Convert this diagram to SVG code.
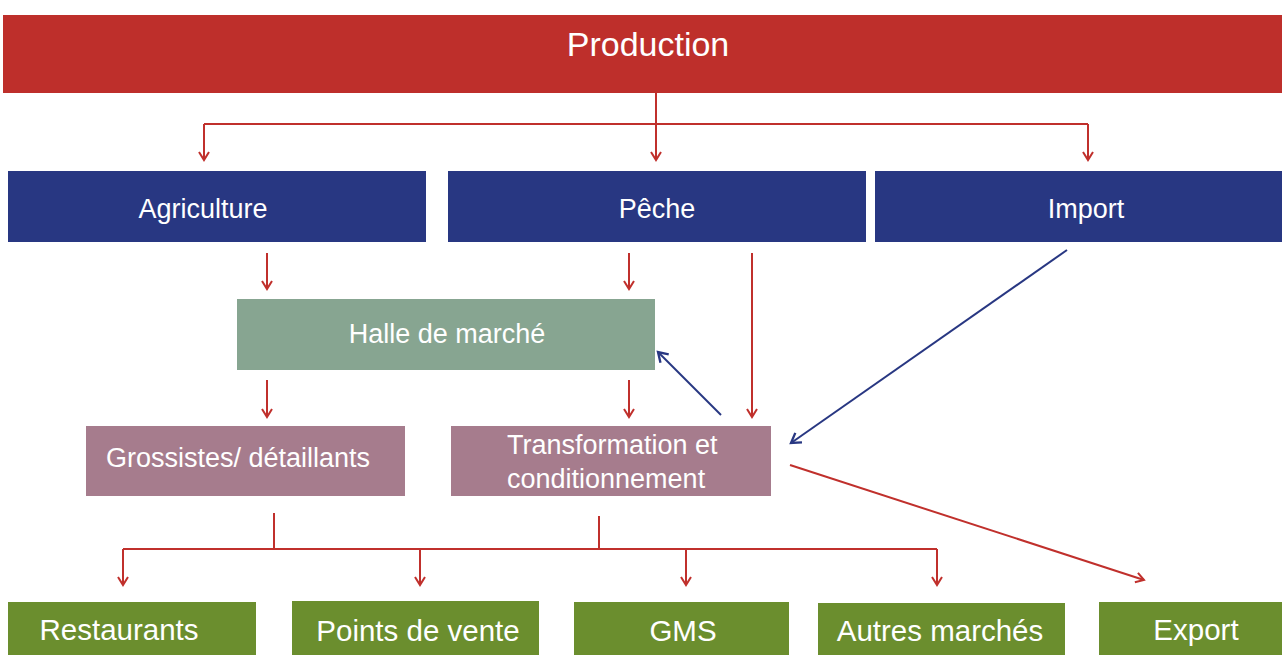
<svg xmlns="http://www.w3.org/2000/svg" width="1282" height="655" viewBox="0 0 1282 655">
<defs>
<style>
.t{font-family:"Liberation Sans",Arial,sans-serif;font-size:27px;fill:#fff}
.g{font-size:29.5px}
.r{stroke:#C0302C;stroke-width:2;fill:none}
.b{stroke:#283782;stroke-width:2;fill:none}
</style>
<marker id="ar" viewBox="0 0 12 12" refX="10" refY="6" markerWidth="12" markerHeight="12" markerUnits="userSpaceOnUse" orient="auto"><polyline points="2,1 10,6 2,11" fill="none" stroke="#C0302C" stroke-width="2"/></marker>
<marker id="ab" viewBox="0 0 12 12" refX="10" refY="6" markerWidth="14" markerHeight="14" markerUnits="userSpaceOnUse" orient="auto"><polyline points="2,1 10,6 2,11" fill="none" stroke="#283782" stroke-width="2"/></marker>
</defs>
<rect width="1282" height="655" fill="#fff"/>
<g id="connectors">
<path class="r" d="M656,93 V124 M204,124 H1088"/>
<path class="r" d="M204,124 V160" marker-end="url(#ar)"/>
<path class="r" d="M656,124 V160" marker-end="url(#ar)"/>
<path class="r" d="M1088,124 V160" marker-end="url(#ar)"/>
<path class="r" d="M267,253 V289" marker-end="url(#ar)"/>
<path class="r" d="M629,253 V289" marker-end="url(#ar)"/>
<path class="r" d="M752,253 V417" marker-end="url(#ar)"/>
<path class="r" d="M267,380 V417" marker-end="url(#ar)"/>
<path class="r" d="M629,380 V417" marker-end="url(#ar)"/>
<path class="b" d="M721,415 L658,352" marker-end="url(#ab)"/>
<path class="b" d="M1067,250 L791,443" marker-end="url(#ab)"/>
<path class="r" d="M790,465 L1144,580" marker-end="url(#ar)"/>
<path class="r" d="M274,513 V549 M599,516 V549 M123,549 H937"/>
<path class="r" d="M123,549 V585" marker-end="url(#ar)"/>
<path class="r" d="M420,549 V585" marker-end="url(#ar)"/>
<path class="r" d="M686,549 V585" marker-end="url(#ar)"/>
<path class="r" d="M937,549 V585" marker-end="url(#ar)"/>
</g>
<g id="production"><rect x="3" y="15" width="1279" height="78" fill="#BE2F2B"/><text class="t" x="648" y="56" text-anchor="middle" style="font-size:34px">Production</text></g>
<g id="agriculture"><rect x="8" y="171" width="418" height="71" fill="#283782"/><text class="t" x="203" y="218" text-anchor="middle">Agriculture</text></g>
<g id="peche"><rect x="448" y="171" width="418" height="71" fill="#283782"/><text class="t" x="657" y="218" text-anchor="middle">Pêche</text></g>
<g id="import"><rect x="875" y="171" width="407" height="71" fill="#283782"/><text class="t" x="1086" y="218" text-anchor="middle">Import</text></g>
<g id="halle"><rect x="237" y="299" width="418" height="71" fill="#87A591"/><text class="t" x="447" y="343" text-anchor="middle">Halle de marché</text></g>
<g id="grossistes"><rect x="86" y="426" width="319" height="70" fill="#A67C8D"/><text class="t" x="238" y="467" text-anchor="middle">Grossistes/ détaillants</text></g>
<g id="transformation"><rect x="451" y="426" width="320" height="70" fill="#A67C8D"/><text class="t" x="507" y="454">Transformation et</text><text class="t" x="507" y="488">conditionnement</text></g>
<g id="restaurants"><rect x="8" y="602" width="248" height="53" fill="#6B8E2E"/><text class="t g" x="119" y="640" text-anchor="middle">Restaurants</text></g>
<g id="points"><rect x="292" y="601" width="247" height="54" fill="#6B8E2E"/><text class="t g" x="418" y="641" text-anchor="middle">Points de vente</text></g>
<g id="gms"><rect x="574" y="602" width="215" height="53" fill="#6B8E2E"/><text class="t g" x="683" y="641" text-anchor="middle">GMS</text></g>
<g id="autres"><rect x="818" y="603" width="247" height="52" fill="#6B8E2E"/><text class="t g" x="940" y="641" text-anchor="middle">Autres marchés</text></g>
<g id="export"><rect x="1099" y="602" width="183" height="53" fill="#6B8E2E"/><text class="t g" x="1196" y="640" text-anchor="middle">Export</text></g>
</svg>
